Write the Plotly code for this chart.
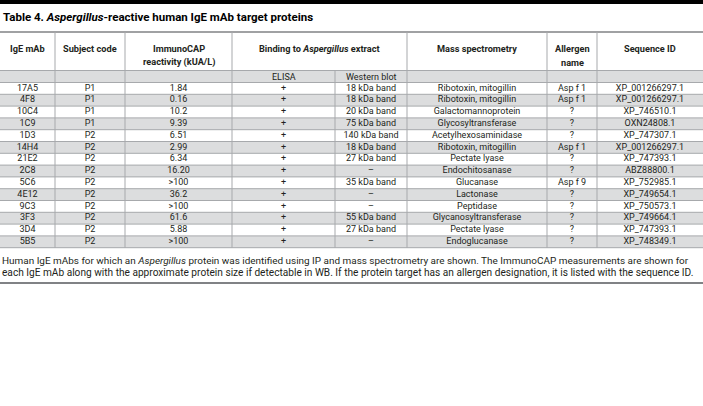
import plotly.graph_objects as go

# ---------------- data ----------------
mab = ["17A5", "4F8", "10C4", "1C9", "1D3", "14H4", "21E2", "2C8", "5C6", "4E12", "9C3", "3F3", "3D4", "5B5"]
subject = ["P1", "P1", "P1", "P1", "P2", "P2", "P2", "P2", "P2", "P2", "P2", "P2", "P2", "P2"]
immunocap = ["1.84", "0.16", "10.2", "9.39", "6.51", "2.99", "6.34", "16.20", ">100", "36.2", ">100", "61.6", "5.88", ">100"]
elisa = ["+"] * 14
western = ["18 kDa band", "18 kDa band", "20 kDa band", "75 kDa band", "140 kDa band", "18 kDa band",
           "27 kDa band", "–", "35 kDa band", "–", "–", "55 kDa band", "27 kDa band", "–"]
mass_spec = ["Ribotoxin, mitogillin", "Ribotoxin, mitogillin", "Galactomannoprotein", "Glycosyltransferase",
             "Acetylhexosaminidase", "Ribotoxin, mitogillin", "Pectate lyase", "Endochitosanase", "Glucanase",
             "Lactonase", "Peptidase", "Glycanosyltransferase", "Pectate lyase", "Endoglucanase"]
allergen = ["Asp f 1", "Asp f 1", "?", "?", "?", "Asp f 1", "?", "?", "Asp f 9", "?", "?", "?", "?", "?"]
seq_id = ["XP_001266297.1", "XP_001266297.1", "XP_746510.1", "OXN24808.1", "XP_747307.1", "XP_001266297.1",
          "XP_747393.1", "ABZ88800.1", "XP_752985.1", "XP_749654.1", "XP_750573.1", "XP_749664.1",
          "XP_747393.1", "XP_748349.1"]

columns = [mab, subject, immunocap, elisa, western, mass_spec, allergen, seq_id]

title = "<b>Table 4. <i>Aspergillus</i>-reactive human IgE mAb target proteins</b>"
# header text, one list entry per text line
main_headers = [["IgE mAb"], ["Subject code"], ["ImmunoCAP", "reactivity (kUA/L)"],
                ["Binding to <i>Aspergillus</i> extract"], ["Mass spectrometry"], ["Allergen", "name"],
                ["Sequence ID"]]
sub_headers = ["ELISA", "Western blot"]
caption = [
    "Human IgE mAbs for which an <i>Aspergillus</i> protein was identified using IP and mass spectrometry are shown. The ImmunoCAP measurements are shown for",
    "each IgE mAb along with the approximate protein size if detectable in WB. If the protein target has an allergen designation, it is listed with the sequence ID.",
]

# ---------------- layout constants ----------------
W, H = 703, 406
col_edges = [0, 55, 125, 232, 335, 407, 547, 597, 703]
main_spans = [(0, 1), (1, 2), (2, 3), (3, 5), (5, 6), (6, 7), (7, 8)]
TITLE_Y = 17
TITLE_LINE = 32
HEAD_LINE1 = 48
HEAD_LINE_GAP = 14
HEAD_BOTTOM = 70.5
SUB_BOTTOM = 82.5
ROW_H = 11.8
n = len(mab)
TABLE_BOTTOM = SUB_BOTTOM + n * ROW_H
CAPTION_Y = 260
CAPTION_GAP = 12.2
END_LINE = 283
FONT = "Roboto, sans-serif"
TXT = "#231f20"
GRID = "#a7a9ac"
FILL = "#dcddde"
BODY_SIZE = 9.0
HEAD_SIZE = 9.2
CAP_SIZES = [9.95, 10.15]

fig = go.Figure()
shapes = []

shapes.append(dict(type="rect", x0=0, x1=W, y0=0, y1=4, fillcolor="#000000", line_width=0, layer="below"))
shapes.append(dict(type="rect", x0=0, x1=W, y0=HEAD_BOTTOM, y1=SUB_BOTTOM, fillcolor=FILL, line_width=0, layer="below"))
for i in range(n):
    if i % 2 == 1:
        y0 = SUB_BOTTOM + i * ROW_H
        shapes.append(dict(type="rect", x0=0, x1=W, y0=y0, y1=y0 + ROW_H, fillcolor=FILL, line_width=0, layer="below"))
for y in [HEAD_BOTTOM, SUB_BOTTOM] + [SUB_BOTTOM + i * ROW_H for i in range(1, n + 1)]:
    shapes.append(dict(type="line", x0=0, x1=W, y0=y, y1=y, line=dict(color=GRID, width=1)))
shapes.append(dict(type="line", x0=0, x1=W, y0=TITLE_LINE, y1=TITLE_LINE, line=dict(color="#808285", width=1.5)))
shapes.append(dict(type="line", x0=0, x1=W, y0=END_LINE, y1=END_LINE, line=dict(color="#808285", width=2)))
for k, x in enumerate(col_edges[1:-1], start=1):
    y_start = HEAD_BOTTOM if k == 4 else TITLE_LINE
    shapes.append(dict(type="line", x0=x, x1=x, y0=y_start, y1=TABLE_BOTTOM, line=dict(color=GRID, width=1)))

annotations = []
annotations.append(dict(x=1, y=TITLE_Y, text=title, showarrow=False, xanchor="left", yanchor="middle",
                        font=dict(size=11.5, color="#000000", family=FONT)))
for (a, b), lines in zip(main_spans, main_headers):
    for j, h in enumerate(lines):
        annotations.append(dict(x=(col_edges[a] + col_edges[b]) / 2, y=HEAD_LINE1 + j * HEAD_LINE_GAP,
                                text="<b>" + h + "</b>", showarrow=False, xanchor="center", yanchor="middle",
                                font=dict(size=HEAD_SIZE, color=TXT, family=FONT)))
for j, h in enumerate(sub_headers):
    annotations.append(dict(x=(col_edges[3 + j] + col_edges[4 + j]) / 2, y=(HEAD_BOTTOM + SUB_BOTTOM) / 2,
                            text=h, showarrow=False, xanchor="center", yanchor="middle",
                            font=dict(size=BODY_SIZE, color=TXT, family=FONT)))
for j, line in enumerate(caption):
    annotations.append(dict(x=0, y=CAPTION_Y + j * CAPTION_GAP, text=line, showarrow=False, xanchor="left",
                            yanchor="middle", font=dict(size=CAP_SIZES[j], color=TXT, family=FONT)))

row_y = [SUB_BOTTOM + (i + 0.5) * ROW_H for i in range(n)]
for c, vals in enumerate(columns):
    xc = (col_edges[c] + col_edges[c + 1]) / 2
    fig.add_trace(go.Scatter(x=[xc] * n, y=row_y, text=vals, mode="text", textposition="middle center",
                             textfont=dict(size=BODY_SIZE, color=TXT, family=FONT), hoverinfo="skip",
                             showlegend=False, cliponaxis=False))

fig.update_layout(
    width=W, height=H, margin=dict(l=0, r=0, t=0, b=0, pad=0),
    paper_bgcolor="white", plot_bgcolor="white",
    xaxis=dict(range=[0, W], visible=False, fixedrange=True),
    yaxis=dict(range=[H, 0], visible=False, fixedrange=True),
    shapes=shapes, annotations=annotations,
)
fig.write_html("out.html", config={"displayModeBar": False},
               post_script="document.body.style.margin='0';document.body.style.overflow='hidden';")
